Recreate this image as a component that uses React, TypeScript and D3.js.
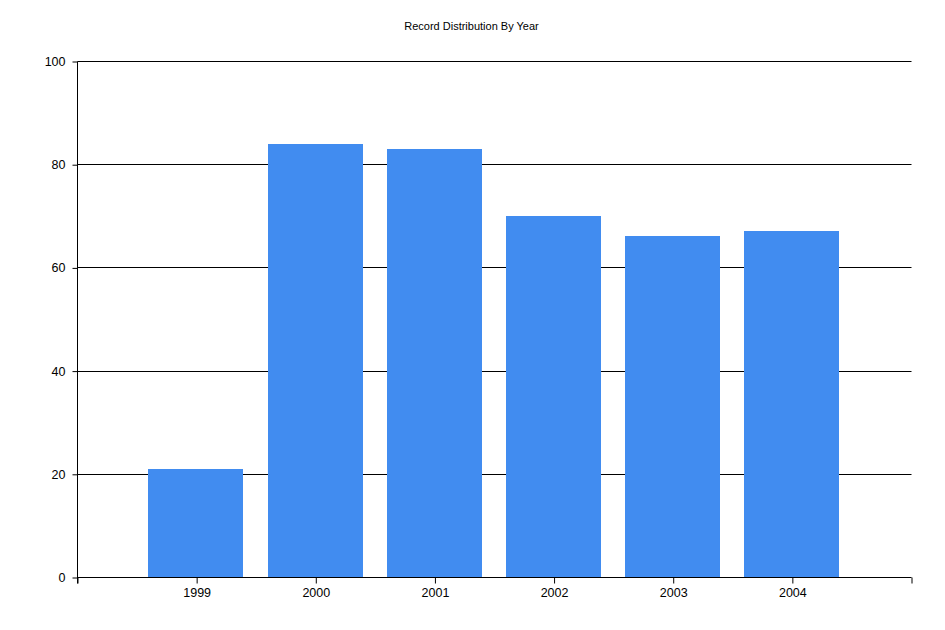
import React, { useEffect, useRef } from 'react'
import * as d3 from 'd3'

const years = ['1999', '2000', '2001', '2002', '2003', '2004']
const records = [21, 84, 83, 70, 66, 67]
const yTicks = [0, 20, 40, 60, 80, 100]

const width = 945
const height = 630
const margin = { top: 61, right: 33.5, bottom: 53, left: 77.5 }

const App: React.FC = () => {
  const svgRef = useRef<SVGSVGElement | null>(null)

  useEffect(() => {
    if (!svgRef.current) return
    const svg = d3.select(svgRef.current)
    svg.selectAll('*').remove()

    const font = '"Liberation Sans", Arial, sans-serif'

    // categories sit at 1..n on a 0..n+1 axis
    const x = d3
      .scaleLinear()
      .domain([0, years.length + 1])
      .range([margin.left - 0.5, width - margin.right - 0.5])
    const step = x(1) - x(0)
    const barW = step * 0.8

    const y = d3
      .scaleLinear()
      .domain([0, 100])
      .range([height - margin.bottom, margin.top])

    svg
      .append('rect')
      .attr('width', width)
      .attr('height', height)
      .attr('fill', 'white')

    // title
    svg
      .append('text')
      .attr('x', (margin.left + width - margin.right) / 2 - 23)
      .attr('y', 30)
      .attr('text-anchor', 'middle')
      .attr('font-family', font)
      .attr('font-size', 11)
      .attr('fill', '#000')
      .text('Record Distribution By Year')

    // gridlines
    svg
      .append('g')
      .selectAll('line')
      .data(yTicks.filter((t) => t > 0))
      .join('line')
      .attr('x1', margin.left)
      .attr('x2', width - margin.right)
      .attr('y1', (d) => Math.round(y(d)) + 0.5)
      .attr('y2', (d) => Math.round(y(d)) + 0.5)
      .attr('stroke', '#000')

    // bars
    svg
      .append('g')
      .selectAll('rect')
      .data(records)
      .join('rect')
      .attr('x', (_, i) => Math.round(x(i + 1) - barW / 2))
      .attr('y', (d) => Math.round(y(d)))
      .attr('width', Math.round(barW))
      .attr('height', (d) => Math.round(y(0)) - Math.round(y(d)))
      .attr('fill', '#418CF0')

    // y axis
    const yAxis = svg
      .append('g')
      .attr('transform', `translate(${margin.left},0.5)`)
      .call(
        d3
          .axisLeft(y)
          .tickValues(yTicks)
          .tickSize(5)
          .tickPadding(7)
          .tickFormat((d) => String(d))
      )
    yAxis.select('.domain').attr('stroke', '#000').attr('d', `M0,${y(100)}V${y(0) + 6}`)
    yAxis.selectAll('.tick line').attr('stroke', '#000')
    yAxis
      .selectAll('.tick text')
      .attr('font-family', font)
      .attr('font-size', 12.5)
      .attr('fill', '#000')

    // x axis
    const xTickPos = [0, ...years.map((_, i) => i + 1), years.length + 1]
    const xAxis = svg
      .append('g')
      .attr('transform', `translate(0.5,${y(0) + 0.5})`)
      .call(
        d3
          .axisBottom(x)
          .tickValues(xTickPos)
          .tickSize(6)
          .tickPadding(5)
          .tickFormat((d) => {
            const i = Number(d) - 1
            return years[i] ?? ''
          })
      )
    xAxis.select('.domain').attr('stroke', '#000').attr('d', `M${x(0)},0H${x(years.length + 1)}`)
    xAxis.selectAll('.tick line').attr('stroke', '#000')
    xAxis
      .selectAll('.tick text')
      .attr('font-family', font)
      .attr('font-size', 12.5)
      .attr('fill', '#000')
  }, [])

  return (
    <svg
      ref={svgRef}
      width={width}
      height={height}
      style={{ position: 'absolute', left: 0, top: 0 }}
    ></svg>
  )
}

export default App
